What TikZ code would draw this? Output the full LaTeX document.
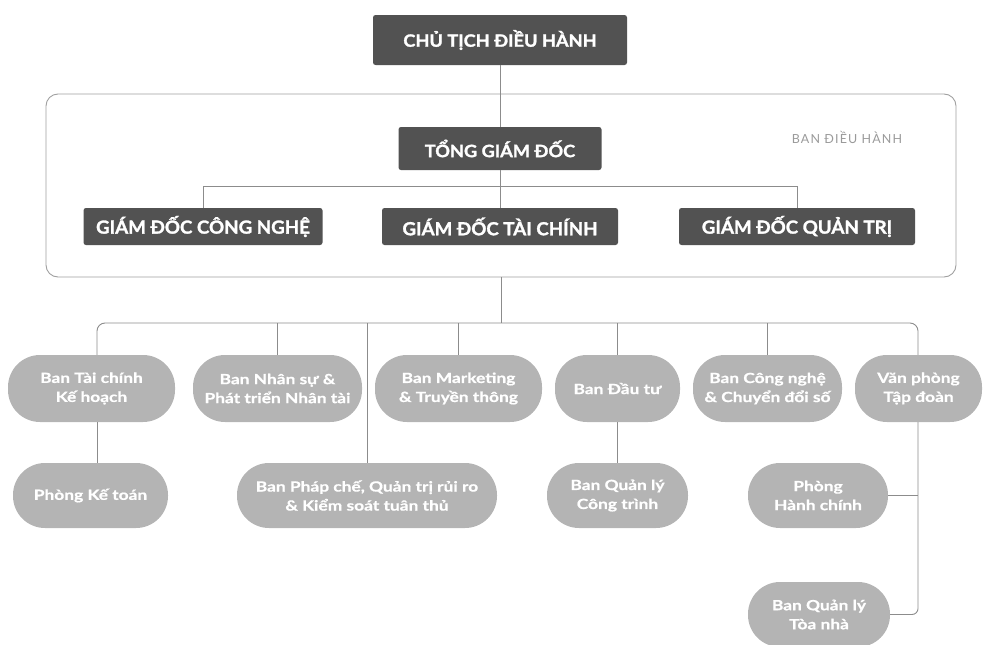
\documentclass[tikz,border=0pt]{standalone}
\usepackage{fontspec}
\setmainfont{Lato}
\definecolor{boxdark}{HTML}{525252}
\definecolor{pillgray}{HTML}{B4B4B4}
\definecolor{linegray}{HTML}{8C8C8C}
\definecolor{framegray}{HTML}{A0A0A0}
\definecolor{labelgray}{HTML}{9A9A9A}
\begin{document}
\begin{tikzpicture}[x=1pt,y=-1pt,
  head/.style={fill=boxdark, rounded corners=2.5pt, text=white, inner sep=0pt,
    font=\bfseries\fontsize{17}{20}\selectfont\addfontfeature{FakeBold=1.6,FakeStretch=1.07}},
  pill/.style={fill=pillgray, rounded corners=32pt, text=white, inner sep=0pt, align=center,
    font=\bfseries\fontsize{14}{19}\selectfont\addfontfeature{FakeBold=0.8,FakeStretch=1.24}},
  conn/.style={draw=linegray, line width=0.9pt},
  framebox/.style={draw=framegray, line width=0.9pt, rounded corners=12pt, inner sep=0pt}]
\useasboundingbox (0,0) rectangle (988,645);

% executive frame
\node[framebox, minimum width=910pt, minimum height=183pt] (bdh) at (501,185.5) {};
\node[text=labelgray, font=\fontsize{12.5}{14}\selectfont\addfontfeature{LetterSpace=9}] (bdhlabel) at (847,137) {BAN ĐIỀU HÀNH};

% dark boxes
\node[head, minimum width=254pt, minimum height=50pt] (chair) at (500,40) {CHỦ TỊCH ĐIỀU HÀNH};
\node[head, minimum width=203pt, minimum height=43pt] (tong) at (500,148.5) {TỔNG GIÁM ĐỐC};
\node[head, minimum width=239pt, minimum height=37pt, font=\bfseries\fontsize{18}{20}\selectfont\addfontfeature{FakeBold=1.6,FakeStretch=1.04}] (gdcn) at (203,226.5) {GIÁM ĐỐC CÔNG NGHỆ};
\node[head, minimum width=236pt, minimum height=37pt, font=\bfseries\fontsize{18}{20}\selectfont\addfontfeature{FakeBold=1.6,FakeStretch=1.04}] (gdtc) at (500,226.5) {GIÁM ĐỐC TÀI CHÍNH};
\node[head, minimum width=236pt, minimum height=37pt, font=\bfseries\fontsize{18}{20}\selectfont\addfontfeature{FakeBold=1.6,FakeStretch=1.04}] (gdqt) at (797,226.5) {GIÁM ĐỐC QUẢN TRỊ};

% level 1 pills
\node[pill, minimum width=167pt, minimum height=67pt] (tc) at (91.5,388.5) {Ban Tài chính\\Kế hoạch};
\node[pill, minimum width=169pt, minimum height=67pt] (ns) at (277.5,388.5) {Ban Nhân sự \&\\Phát triển Nhân tài};
\node[pill, minimum width=167pt, minimum height=67pt] (mk) at (458.5,388.5) {Ban Marketing\\\& Truyền thông};
\node[pill, minimum width=125pt, minimum height=67pt] (dt) at (617.5,388.5) {Ban Đầu tư};
\node[pill, minimum width=149pt, minimum height=67pt] (cn) at (767.5,388.5) {Ban Công nghệ\\\& Chuyển đổi số};
\node[pill, minimum width=127pt, minimum height=67pt] (vp) at (918.5,388.5) {Văn phòng\\Tập đoàn};

% level 2 pills
\node[pill, minimum width=155pt, minimum height=65pt] (kt) at (90.5,495.5) {Phòng Kế toán};
\node[pill, minimum width=260pt, minimum height=65pt] (pc) at (367,495.5) {Ban Pháp chế, Quản trị rủi ro\\\& Kiểm soát tuân thủ};
\node[pill, minimum width=141pt, minimum height=65pt] (qlct) at (617.5,495.5) {Ban Quản lý\\Công trình};
\node[pill, minimum width=140pt, minimum height=65pt] (hc) at (818,495.5) {Phòng\\Hành chính};
\node[pill, minimum width=142pt, minimum height=65pt] (tn) at (819,614.5) {Ban Quản lý\\Tòa nhà};

% connectors top
\draw[conn] (chair.south) -- (tong.north);
\draw[conn] (tong.south) -- (gdtc.north);
\coordinate (dbus) at (500,186);
\draw[conn] (gdcn.north) -- (gdcn.north |- dbus) -- (gdqt.north |- dbus) -- (gdqt.north);

% main bus
\coordinate (busL) at (97,323);
\coordinate (busR) at (918,323);
\draw[conn] (bdh.south) -- (bdh.south |- busL);
\draw[conn, rounded corners=8pt] (tc.north -| busL) -- (busL) -- (busR) -- (vp.north -| busR);
\draw[conn] (ns.north) -- (ns.north |- busL);
\draw[conn] (mk.north) -- (mk.north |- busL);
\draw[conn] (dt.north) -- (dt.north |- busL);
\draw[conn] (cn.north) -- (cn.north |- busL);
\draw[conn] (pc.north) -- (pc.north |- busL);

% lower connectors
\draw[conn] (tc.south -| busL) -- (kt.north -| busL);
\draw[conn] (dt.south) -- (qlct.north);
\draw[conn, rounded corners=6pt] (vp.south -| busR) -- (tn.east -| busR) -- (tn.east);
\draw[conn] (hc.east) -- (hc.east -| busR);
\end{tikzpicture}
\end{document}
